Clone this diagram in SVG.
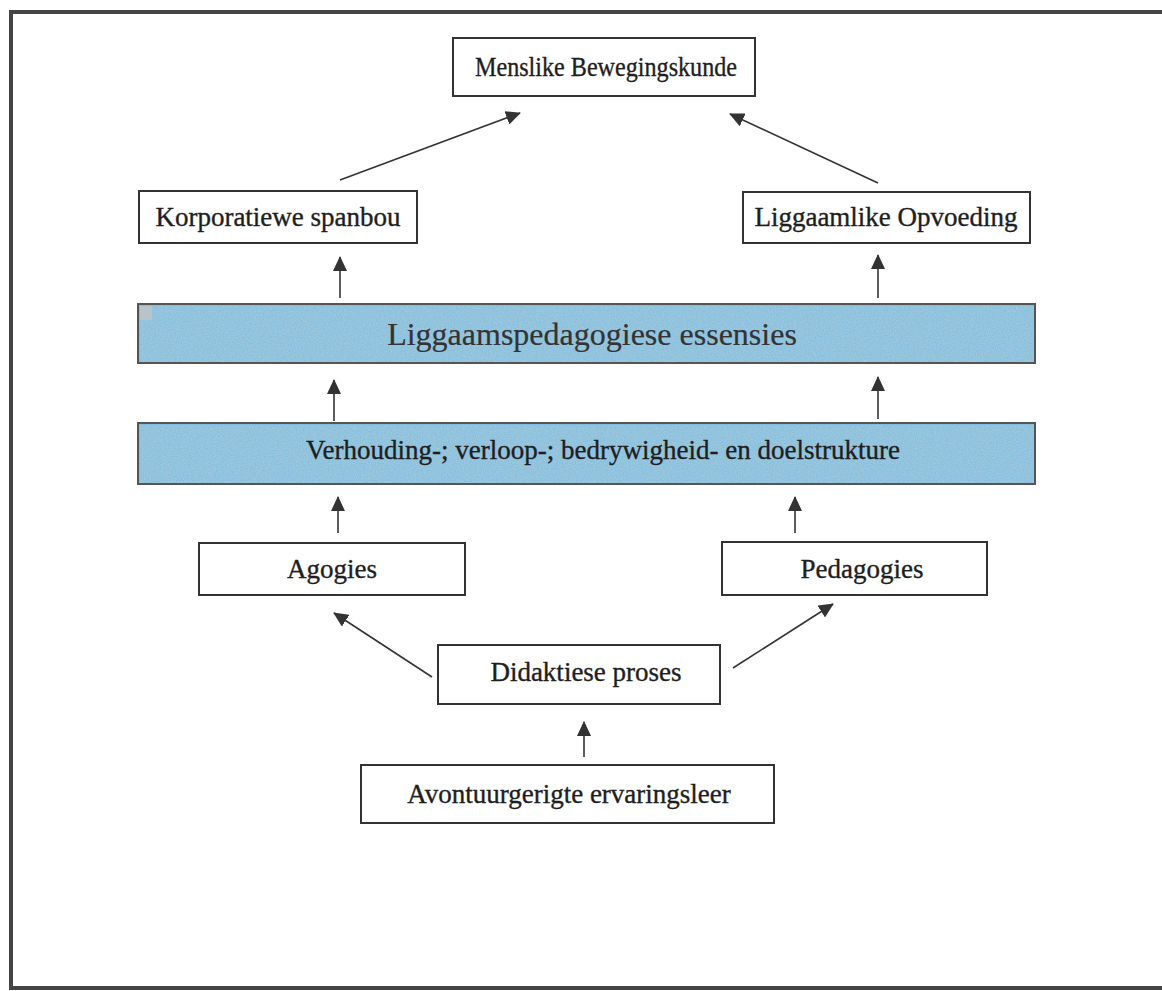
<svg xmlns="http://www.w3.org/2000/svg" width="1162" height="991" viewBox="0 0 1162 991">
  <defs>
    <marker id="head" viewBox="0 0 15 14" refX="14" refY="7" markerWidth="15" markerHeight="14" markerUnits="userSpaceOnUse" orient="auto">
      <path d="M0,0 L15,7 L0,14 Z" fill="#333"/>
    </marker>
    <filter id="grain" x="0" y="0" width="100%" height="100%">
      <feTurbulence type="fractalNoise" baseFrequency="0.85" numOctaves="2" seed="3" result="n"/>
      <feColorMatrix in="n" type="matrix" values="0 0 0 0 0.42  0 0 0 0 0.63  0 0 0 0 0.76  0 0 0 -1.6 1.3" result="tint"/>
      <feComposite in="tint" in2="SourceGraphic" operator="in"/>
    </filter>
  </defs>
  <style>
    .box { fill: #ffffff; stroke: #333; stroke-width: 2; }
    .bar { fill: #84bddc; stroke: #555; stroke-width: 2; }
    .lbl { font-family: "Liberation Serif", "Times New Roman", serif; font-size: 27px; fill: #1e1e1e; stroke: #1e1e1e; stroke-width: 0.35; text-anchor: middle; }
    .big { font-size: 32px; fill: #333; stroke: #333; stroke-width: 0.2; }
    .edge { stroke: #333; stroke-width: 1.6; fill: none; marker-end: url(#head); }
  </style>

  <rect x="0" y="0" width="1162" height="991" fill="#ffffff"/>
  <!-- outer frame, open on the right -->
  <path d="M1162,12 H11 V988 H1162" fill="none" stroke="#444" stroke-width="4"/>

  <g id="connectors">
    <line class="edge" x1="340" y1="180" x2="520" y2="113"/>
    <line class="edge" x1="878" y1="183" x2="730" y2="114"/>
    <line class="edge" x1="340" y1="298" x2="340" y2="257"/>
    <line class="edge" x1="878" y1="298" x2="878" y2="255"/>
    <line class="edge" x1="334" y1="421" x2="334" y2="380"/>
    <line class="edge" x1="878" y1="419" x2="878" y2="377"/>
    <line class="edge" x1="338" y1="533" x2="338" y2="497"/>
    <line class="edge" x1="795" y1="533" x2="795" y2="497"/>
    <line class="edge" x1="432" y1="677" x2="334" y2="613"/>
    <line class="edge" x1="733" y1="668" x2="833" y2="604"/>
    <line class="edge" x1="584" y1="757" x2="584" y2="722"/>
  </g>

  <g id="menslike">
    <rect class="box" x="453" y="38" width="302" height="58"/>
    <text class="lbl" x="606" y="76" font-size="26" textLength="262" lengthAdjust="spacingAndGlyphs">Menslike Bewegingskunde</text>
  </g>
  <g id="korporatiewe">
    <rect class="box" x="139" y="191" width="278" height="52"/>
    <text class="lbl" x="278" y="226">Korporatiewe spanbou</text>
  </g>
  <g id="liggaamlike">
    <rect class="box" x="743" y="192" width="287" height="51"/>
    <text class="lbl" x="886" y="226">Liggaamlike Opvoeding</text>
  </g>
  <g id="essensies">
    <rect class="bar" x="138" y="304" width="897" height="59"/>
    <rect x="140" y="306" width="894" height="56" filter="url(#grain)" opacity="0.7"/>
    <rect x="140" y="306" width="12" height="14" fill="#b9c3ca"/>
    <text class="lbl big" x="592" y="345">Liggaamspedagogiese essensies</text>
  </g>
  <g id="strukture">
    <rect class="bar" x="138" y="423" width="897" height="61"/>
    <rect x="140" y="425" width="894" height="58" filter="url(#grain)" opacity="0.7"/>
    <text class="lbl" x="603" y="459">Verhouding-; verloop-; bedrywigheid- en doelstrukture</text>
  </g>
  <g id="agogies">
    <rect class="box" x="199" y="543" width="266" height="52"/>
    <text class="lbl" x="332" y="578">Agogies</text>
  </g>
  <g id="pedagogies">
    <rect class="box" x="722" y="542" width="265" height="53"/>
    <text class="lbl" x="862" y="578">Pedagogies</text>
  </g>
  <g id="didaktiese">
    <rect class="box" x="438" y="645" width="282" height="59"/>
    <text class="lbl" x="586" y="681">Didaktiese proses</text>
  </g>
  <g id="avontuur">
    <rect class="box" x="361" y="765" width="413" height="58"/>
    <text class="lbl" x="569" y="803">Avontuurgerigte ervaringsleer</text>
  </g>
</svg>
